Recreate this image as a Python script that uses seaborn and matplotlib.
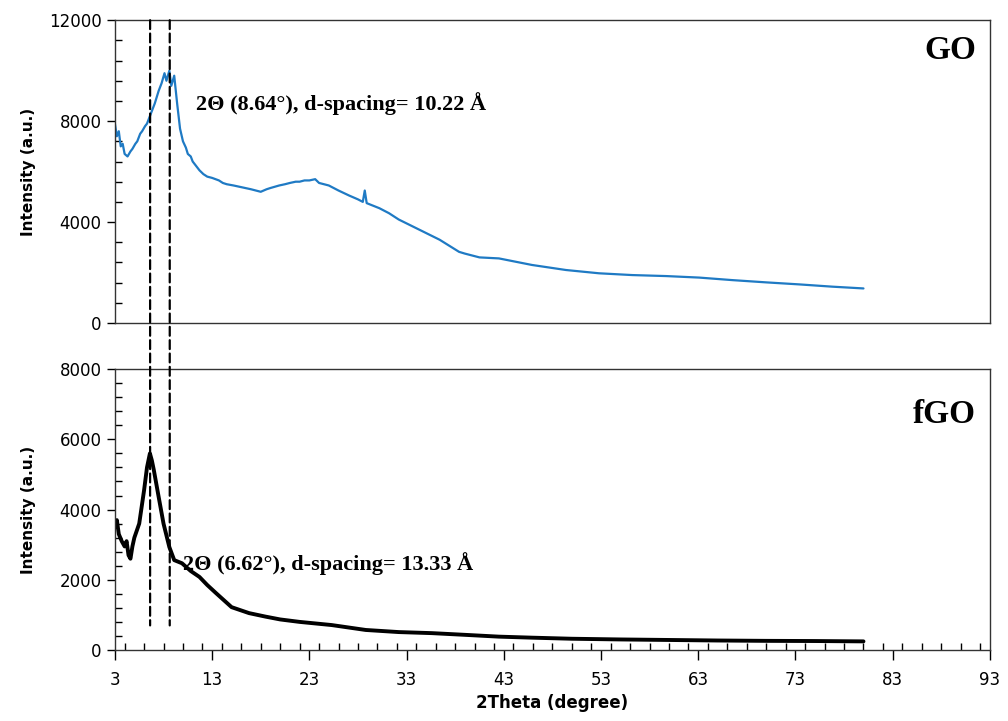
import numpy as np
import pandas as pd
import seaborn as sns
import matplotlib.pyplot as plt
from matplotlib.patches import ConnectionPatch
from matplotlib.ticker import MultipleLocator

# GO pattern
go_theta = [3.0, 3.2, 3.4, 3.6, 3.8, 4.0, 4.3, 4.6, 4.8, 5.1, 5.3, 5.6, 5.8, 6.1, 6.3,
            6.7, 7.1, 7.5, 7.8, 8.1, 8.3, 8.6, 8.8, 9.1, 9.4, 9.7, 10.0, 10.3, 10.5,
            10.8, 11.0, 11.4, 11.7, 12.1, 12.5, 13.0, 13.7, 14.1, 14.5, 15.2, 15.8,
            16.4, 17.0, 17.5, 18.0, 18.6, 19.0, 19.9, 20.5, 21.0, 21.6, 22.0, 22.5,
            23.0, 23.6, 24.0, 25.0, 26.0, 27.1, 28.0, 28.5, 28.7, 28.9, 30.2, 31.2,
            32.2, 34.3, 36.4, 38.4, 39.0, 40.5, 42.5, 45.9, 49.4, 52.8, 56.2, 59.7,
            63.1, 66.5, 70.0, 73.4, 76.8, 80.0]
go_intensity = [7900, 7400, 7600, 7000, 7100, 6700, 6600, 6800, 6900, 7100, 7200, 7500,
                7600, 7800, 7900, 8300, 8700, 9200, 9500, 9900, 9600, 10000, 9400, 9800,
                8700, 7700, 7200, 6950, 6700, 6600, 6400, 6200, 6050, 5900, 5800, 5750,
                5650, 5550, 5500, 5450, 5400, 5350, 5300, 5250, 5200, 5300, 5350, 5450,
                5500, 5550, 5600, 5600, 5650, 5650, 5700, 5550, 5450, 5250, 5050, 4900,
                4800, 5250, 4750, 4550, 4350, 4100, 3700, 3300, 2820, 2750, 2600, 2560,
                2300, 2100, 1970, 1900, 1860, 1800, 1700, 1610, 1530, 1440, 1370]

# fGO pattern
fgo_theta = [3.0, 3.2, 3.4, 3.7, 4.0, 4.2, 4.4, 4.6, 4.8, 5.0, 5.5, 6.0, 6.3, 6.6, 6.8,
             7.0, 7.5, 8.0, 8.6, 9.1, 9.9, 10.8, 11.7, 12.5, 13.4, 15.0, 16.8, 18.5,
             20.0, 22.0, 25.3, 28.8, 32.2, 35.6, 39.1, 42.5, 46.0, 50.0, 55.0, 60.0,
             65.0, 70.0, 75.0, 80.0]
fgo_intensity = [3500, 3700, 3300, 3100, 2950, 3100, 2700, 2600, 2950, 3200, 3600, 4550,
                 5200, 5600, 5400, 5130, 4360, 3600, 2930, 2560, 2470, 2250, 2080, 1850,
                 1620, 1220, 1050, 950, 870, 800, 710, 570, 510, 480, 430, 380, 350, 320,
                 300, 285, 270, 260, 255, 245]

peak_positions = [6.62, 8.64]
x_ticks = [3, 13, 23, 33, 43, 53, 63, 73, 83, 93]

sns.set_style("ticks")
plt.rcParams['font.family'] = ['DejaVu Sans']
plt.rcParams['xtick.labelsize'] = 12
plt.rcParams['ytick.labelsize'] = 12
plt.rcParams['text.color'] = 'black'
plt.rcParams['axes.labelcolor'] = 'black'
plt.rcParams['xtick.color'] = 'black'
plt.rcParams['ytick.color'] = 'black'

df_go = pd.DataFrame({'theta': go_theta, 'intensity': go_intensity})
df_fgo = pd.DataFrame({'theta': fgo_theta, 'intensity': fgo_intensity})

fig = plt.figure(figsize=(10.08, 7.21), dpi=100)
ax1 = fig.add_axes([0.114, 0.552, 0.868, 0.420])
ax2 = fig.add_axes([0.114, 0.0985, 0.868, 0.3895])

sns.lineplot(data=df_go, x='theta', y='intensity', ax=ax1, color='#1f7ac4', linewidth=1.6)
sns.lineplot(data=df_fgo, x='theta', y='intensity', ax=ax2, color='black', linewidth=2.8)

for ax in (ax1, ax2):
    ax.set_xlim(3, 93)
    for s in ax.spines.values():
        s.set_linewidth(1.0)
        s.set_color('#333333')
    ax.tick_params(axis='y', which='major', direction='out', length=6, width=1)
    ax.tick_params(axis='y', which='minor', direction='in', length=5, width=1)
    ax.set_ylabel('Intensity (a.u.)', fontsize=11, fontweight='bold')

ax1.set_ylim(0, 12000)
ax1.yaxis.set_major_locator(MultipleLocator(4000))
ax1.yaxis.set_minor_locator(MultipleLocator(800))
ax1.set_xticks([])
ax1.set_xlabel('')

ax2.set_ylim(0, 8000)
ax2.yaxis.set_major_locator(MultipleLocator(2000))
ax2.yaxis.set_minor_locator(MultipleLocator(400))
ax2.set_xticks(x_ticks)
ax2.xaxis.set_minor_locator(MultipleLocator(2))
ax2.tick_params(axis='x', which='major', direction='out', length=7, width=1, pad=8)
ax2.tick_params(axis='x', which='minor', direction='in', length=5, width=1)
ax2.set_xlabel('2Theta (degree)', fontsize=12, fontweight='bold')

ax1.yaxis.set_label_coords(-0.09, 0.5)
ax2.yaxis.set_label_coords(-0.09, 0.5)

# dashed reference lines through both panels
for xp in peak_positions:
    con = ConnectionPatch(xyA=(xp, 12000), coordsA=ax1.transData,
                          xyB=(xp, 700), coordsB=ax2.transData,
                          linestyle=(0, (4, 2)), color='black', linewidth=1.6)
    fig.add_artist(con)

serif = ['Liberation Serif', 'DejaVu Serif']
ax1.text(0.984, 0.90, 'GO', transform=ax1.transAxes, ha='right', va='center',
         fontsize=24, fontweight='bold', family=serif)
ax2.text(0.984, 0.84, 'fGO', transform=ax2.transAxes, ha='right', va='center',
         fontsize=24, fontweight='bold', family=serif)
ax1.text(11.3, 8700, '2\u0398 (8.64\u00b0), d-spacing= 10.22 \u00c5', ha='left', va='center',
         fontsize=16, fontweight='bold', family=serif)
ax2.text(10.0, 2450, '2\u0398 (6.62\u00b0), d-spacing= 13.33 \u00c5', ha='left', va='center',
         fontsize=16, fontweight='bold', family=serif)

fig.savefig('out.png', dpi=100)
